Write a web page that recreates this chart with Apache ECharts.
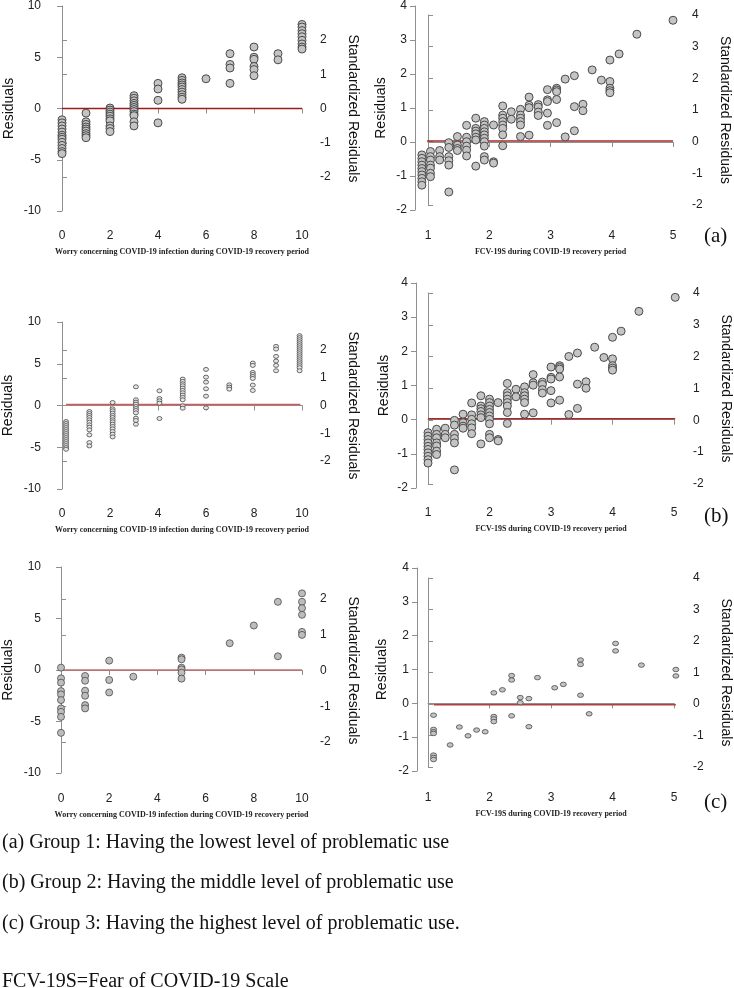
<!DOCTYPE html>
<html>
<head>
<meta charset="utf-8">
<script src="https://cdn.jsdelivr.net/npm/echarts@6/dist/echarts.min.js"></script>
<style>
html,body{margin:0;padding:0;background:#fff}
#chart{width:734px;height:988px}
</style>
</head>
<body>
<div id="chart"></div>
<script>
// ========= data =========
// worry score (0-10) columns, residuals per column
const worryXA = [0, 1, 2, 3, 4, 5, 6, 7, 8, 9, 10];
const worryResA = [
  [-1.1, -1.4, -1.7, -2.0, -2.3, -2.6, -2.8, -3.0, -3.3, -3.6, -3.9, -4.2, -4.4],
  [-0.45, -1.3, -1.55, -1.8, -2.0, -2.2, -2.45, -2.65, -2.85],
  [0.05, -0.15, -0.35, -0.55, -0.75, -1.0, -1.2, -1.7, -1.95, -2.25],
  [1.25, 1.0, 0.75, 0.5, 0.3, 0.1, -0.1, -0.3, -0.55, -0.7, -1.3, -1.7],
  [2.45, 1.9, 0.8, -1.4],
  [3.0, 2.75, 2.5, 2.3, 2.1, 1.85, 1.6, 1.35, 1.1, 0.9],
  [2.9],
  [5.35, 4.3, 3.95, 2.45],
  [6.0, 5.0, 4.8, 4.1, 3.8, 3.2],
  [5.35, 4.75],
  [8.2, 7.95, 7.6, 7.3, 7.0, 6.65, 6.3, 6.0, 5.8]
];

const worryXB = [0.17, 1.14, 2.11, 3.08, 4.06, 5.03, 6.0, 6.97, 7.95, 8.92, 9.9];
const worryResB = [
  [-1.92, -2.16, -2.4, -2.64, -2.88, -3.12, -3.36, -3.6, -3.84, -4.08, -4.32, -4.56, -4.8, -5.04, -5.24],
  [-0.72, -0.96, -1.2, -1.44, -1.72, -2.0, -2.32, -2.6, -2.92, -3.52, -4.44, -4.84],
  [0.36, -0.4, -0.64, -0.92, -1.2, -1.44, -1.72, -1.96, -2.24, -2.52, -2.8, -3.12, -3.44, -3.76],
  [2.24, 0.68, 0.4, 0.16, -0.12, -0.36, -0.6, -0.88, -1.52, -1.8, -2.24],
  [1.76, 0.84, 0.56, 0.28, -1.56],
  [3.16, 2.88, 2.6, 2.36, 2.08, 1.8, 1.52, 1.24, 0.96, 0.68, -0.04, -0.32],
  [4.32, 3.4, 2.8, 2.0, 1.12, -0.28],
  [2.48, 2.2, 1.96],
  [5.08, 4.8, 3.96, 3.72, 3.48, 3.24, 2.44, 1.8],
  [7.08, 6.76, 5.88, 5.32, 4.8, 4.16],
  [8.36, 8.12, 7.88, 7.64, 7.4, 7.16, 6.92, 6.68, 6.44, 6.2, 5.96, 5.72, 5.48, 5.24, 5.0, 4.76, 4.52, 4.16]
];

const worryXC = [0, 1, 2, 3, 5, 7, 8, 9, 10];
const worryResC = [
  [0.23, -0.81, -1.23, -2.05, -2.37, -2.92, -3.73, -4.06, -4.55, -6.1],
  [-0.58, -1.04, -2.01, -2.5, -3.41, -3.73],
  [0.91, -0.97, -2.18],
  [-0.65],
  [1.2, 1.04, 0.23, 0.06, -0.26, -0.84],
  [2.6],
  [4.32],
  [6.62, 1.33],
  [7.44, 6.62, 6.0, 5.36, 3.7, 3.41]
];

// FCV-19S columns (groups 1 and 2 show the same residuals)
const fcvXA = [0.90, 1.04, 1.19, 1.34, 1.48, 1.63, 1.78, 1.92, 2.07, 2.22, 2.36, 2.51, 2.65,
  2.80, 2.95, 3.10, 3.24, 3.39, 3.53, 3.68, 3.83, 3.97, 4.12, 4.41, 5.0];
const fcvXB = [1.0, 1.14, 1.28, 1.43, 1.57, 1.71, 1.86, 2.0, 2.14, 2.29, 2.43, 2.57, 2.71,
  2.86, 3.0, 3.14, 3.29, 3.43, 3.57, 3.71, 3.86, 4.0, 4.14, 4.43, 5.02];
const fcvResAB = [
  [-0.38, -0.48, -0.58, -0.68, -0.78, -0.87, -0.97, -1.07, -1.17, -1.27],
  [-0.28, -0.43, -0.53, -0.68, -0.77, -0.92, -1.02],
  [-0.25, -0.43, -0.53],
  [-0.02, -0.16, -0.43, -0.55, -0.68, -1.47],
  [0.16, -0.09, -0.19, -0.25],
  [0.49, 0.14, 0.01, -0.12, -0.24, -0.41],
  [0.70, 0.40, 0.32, 0.24, 0.14, 0.06, -0.71],
  [0.60, 0.50, 0.40, 0.30, 0.21, 0.11, 0.01, -0.12, -0.43, -0.53],
  [0.50, -0.58, -0.62],
  [1.06, 0.79, 0.70, 0.60, 0.50, 0.40, 0.21, -0.11],
  [0.89, 0.67],
  [0.96, 0.79, 0.70, 0.60, 0.50, 0.16],
  [1.32, 1.08, 1.01, 0.20],
  [1.10, 1.03, 0.88, 0.78],
  [1.54, 1.24, 1.19, 0.85, 0.49],
  [1.58, 1.53, 1.48, 1.25, 0.57],
  [1.85, 0.15],
  [1.95, 1.04, 0.33],
  [1.11, 0.92],
  [2.12],
  [1.82],
  [2.41, 1.78, 1.58, 1.51, 1.45],
  [2.59],
  [3.17],
  [3.58]
];

const fcvXC = [1.09, 1.36, 1.51, 1.65, 1.79, 1.93, 2.07, 2.21, 2.36, 2.5, 2.64, 2.78,
  3.06, 3.2, 3.48, 3.62, 4.05, 4.47, 5.03];
const fcvResC = [
  [-0.35, -0.77, -0.84, -0.89, -1.53, -1.6, -1.66],
  [-1.23],
  [-0.70],
  [-0.96],
  [-0.79],
  [-0.84],
  [0.31, -0.39, -0.46, -0.54],
  [0.40],
  [0.82, 0.69, -0.37],
  [0.17, 0.02],
  [0.14, -0.69],
  [0.76],
  [0.46],
  [0.56],
  [1.28, 1.15, 0.24],
  [-0.31],
  [1.77, 1.55],
  [1.13],
  [1.0, 0.81]
];

// fitted zero lines [x start, x end, y]
const zeroA = [[0, 0], [10, 0]];
const zeroFcvA = [[0.92, 0.03], [5.0, 0.03]];
const zeroB = [[0.17, 0.12], [9.93, 0.12]];
const zeroFcvB = [[1.0, 0.03], [5.02, 0.03]];
const zeroC = [[0, 0], [10, 0]];
const zeroFcvC = [[1.09, -0.04], [5.03, -0.04]];

const worryTicks = { min: 0, max: 10, interval: 2 };
const fcvTicks = { min: 1, max: 5, interval: 1 };

const captions = [
  '(a) Group 1: Having the lowest level of problematic use',
  '(b) Group 2: Having the middle level of problematic use',
  '(c) Group 3: Having the highest level of problematic use.',
  'FCV-19S=Fear of COVID-19 Scale'
];

// ========= helpers =========
const SANS = 'Liberation Sans';
const SERIF = 'Liberation Serif';
const GRAY = '#8f8f8f';
const ELLIPSE = 'path://M0,50 A50,50 0 1,1 100,50 A50,50 0 1,1 0,50 Z';

function pairs(xs, cols) {
  const out = [];
  cols.forEach((c, i) => c.forEach(v => out.push([xs[i], v])));
  return out;
}

const grid = [], xAxis = [], yAxis = [], series = [];

function addPanel(p) {
  const gi = grid.length;
  grid.push({ left: p.main[0], top: p.main[1], width: p.main[2], height: p.main[3] });
  grid.push({ left: p.main[0], top: p.right[0], width: p.main[2], height: p.right[1] });

  const xi = xAxis.length;
  xAxis.push({
    type: 'value', gridIndex: gi, min: p.x.min, max: p.x.max, interval: p.x.interval,
    offset: p.xOff, name: p.xName, nameLocation: 'middle', nameGap: 27,
    nameTextStyle: { fontFamily: SERIF, fontWeight: 'bold', fontSize: 8, color: '#222' },
    axisLine: { show: true, lineStyle: { color: GRAY } },
    axisTick: { show: true, length: 5, lineStyle: { color: GRAY } },
    axisLabel: { fontFamily: SANS, fontSize: 12, color: '#222', margin: 9 },
    splitLine: { show: false }
  });
  xAxis.push({ type: 'value', gridIndex: gi + 1, show: false, min: 0, max: 1 });

  const yi = yAxis.length;
  yAxis.push({
    type: 'value', gridIndex: gi, position: 'left', min: p.y.min, max: p.y.max, interval: p.y.interval,
    offset: p.yOff, name: 'Residuals', nameLocation: 'middle', nameGap: p.nameGapL, nameRotate: 90,
    nameTextStyle: { fontFamily: SANS, fontSize: 14, color: '#111' },
    axisLine: { show: true, lineStyle: { color: GRAY } },
    axisTick: { show: true, length: 5, lineStyle: { color: GRAY } },
    axisLabel: { fontFamily: SANS, fontSize: 12, color: '#222', margin: 8 },
    splitLine: { show: false }
  });
  yAxis.push({
    type: 'value', gridIndex: gi + 1, position: 'right', min: p.r.min, max: p.r.max, interval: 1,
    offset: p.rOff, name: 'Standardized Residuals', nameLocation: 'middle', nameGap: 33, nameRotate: -90,
    nameTextStyle: { fontFamily: SANS, fontSize: 14, color: '#111' },
    axisLine: { show: true, lineStyle: { color: GRAY } },
    axisTick: { show: true, length: 5, lineStyle: { color: GRAY } },
    axisLabel: { fontFamily: SANS, fontSize: 12, color: '#222', margin: 7 },
    splitLine: { show: false }
  });

  series.push({
    type: 'line', xAxisIndex: xi, yAxisIndex: yi, data: p.zero, symbol: 'none',
    lineStyle: { color: p.lineColor, width: 1.5 }, silent: true, z: 1
  });
  series.push({
    type: 'scatter', xAxisIndex: xi, yAxisIndex: yi, data: p.data, clip: false,
    symbol: p.symbol, symbolSize: p.size,
    itemStyle: { color: p.fill, borderColor: '#4a4a4a', borderWidth: p.bw, opacity: 1 },
    z: 3
  });
}

const worryName = 'Worry concerning COVID-19 infection during COVID-19 recovery period';
const fcvName = 'FCV-19S during COVID-19 recovery period';

// (a) left
addPanel({ main: [62, 6, 240, 205], right: [40, 137], xOff: 10, yOff: 13, rOff: 11, nameGapL: 33,
  x: worryTicks, y: { min: -10, max: 10, interval: 5 }, r: { min: -2, max: 2 },
  xName: worryName, zero: zeroA, lineColor: '#a01818',
  data: pairs(worryXA, worryResA), symbol: 'circle', size: 8, fill: '#c4c4c4', bw: 1 });
// (a) right
addPanel({ main: [428, 6, 245, 204], right: [15, 190], xOff: 11, yOff: 13, rOff: 12, nameGapL: 27,
  x: fcvTicks, y: { min: -2, max: 4, interval: 1 }, r: { min: -2, max: 4 },
  xName: fcvName, zero: zeroFcvA, lineColor: '#a52a2a',
  data: pairs(fcvXA, fcvResAB), symbol: 'circle', size: 8, fill: '#c4c4c4', bw: 1 });
// (b) left
addPanel({ main: [62, 322, 240, 167], right: [350, 111], xOff: 10, yOff: 13, rOff: 11, nameGapL: 34,
  x: worryTicks, y: { min: -10, max: 10, interval: 5 }, r: { min: -2, max: 2 },
  xName: worryName, zero: zeroB, lineColor: '#d05a5a',
  data: pairs(worryXB, worryResB), symbol: ELLIPSE, size: [5, 4], fill: '#e6e6e6', bw: 0.8 });
// (b) right
addPanel({ main: [428, 283, 246, 205], right: [293, 191], xOff: 10, yOff: 12, rOff: 12, nameGapL: 25,
  x: fcvTicks, y: { min: -2, max: 4, interval: 1 }, r: { min: -2, max: 4 },
  xName: fcvName, zero: zeroFcvB, lineColor: '#a52a2a',
  data: pairs(fcvXB, fcvResAB), symbol: 'circle', size: 8, fill: '#c4c4c4', bw: 1 });
// (c) left
addPanel({ main: [61, 567, 241, 206], right: [599, 143], xOff: 11, yOff: 12, rOff: 11, nameGapL: 34,
  x: worryTicks, y: { min: -10, max: 10, interval: 5 }, r: { min: -2, max: 2 },
  xName: worryName, zero: zeroC, lineColor: '#c07070',
  data: pairs(worryXC, worryResC), symbol: 'circle', size: 7, fill: '#bdbdbd', bw: 0.8 });
// (c) right
addPanel({ main: [428, 568, 246, 203], right: [578, 189], xOff: 12, yOff: 11, rOff: 13, nameGapL: 28,
  x: fcvTicks, y: { min: -2, max: 4, interval: 1 }, r: { min: -2, max: 4 },
  xName: fcvName, zero: zeroFcvC, lineColor: '#b04040',
  data: pairs(fcvXC, fcvResC), symbol: ELLIPSE, size: [6, 4.5], fill: '#c4c4c4', bw: 0.8 });

// ========= texts =========
const graphic = [];
[['(a)', 237], ['(b)', 517], ['(c)', 803]].forEach(([t, y]) => {
  graphic.push({ type: 'text', left: 704, top: y - 11,
    style: { text: t, font: '21px "Liberation Serif"', fill: '#111' } });
});
[842, 882, 923, 981].forEach((y, i) => {
  graphic.push({ type: 'text', left: 2, top: y - 9,
    style: { text: captions[i], font: '20px "Liberation Serif"', fill: '#111' } });
});

const chart = echarts.init(document.getElementById('chart'), null, { renderer: 'canvas' });
chart.setOption({
  backgroundColor: '#fff',
  animation: false,
  grid, xAxis, yAxis, series, graphic
});
</script>
</body>
</html>
